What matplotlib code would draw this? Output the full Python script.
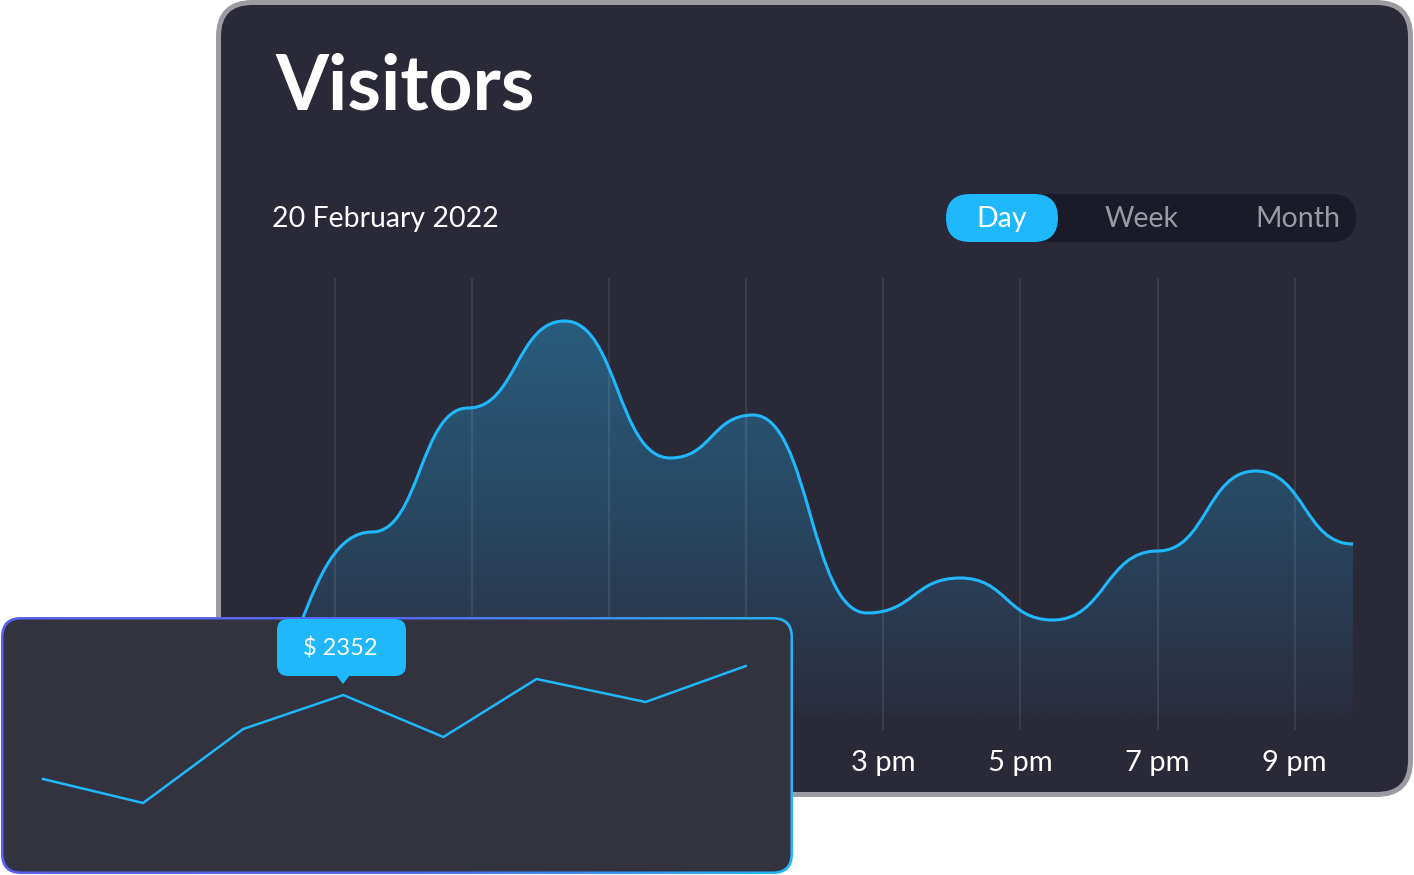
import numpy as np
import matplotlib
matplotlib.use("Agg")
import matplotlib.pyplot as plt
from matplotlib.patches import FancyBboxPatch, PathPatch, Polygon
from matplotlib.path import Path
from matplotlib.colors import LinearSegmentedColormap

plt.rcParams['font.family'] = ['Lato', 'DejaVu Sans']

# main chart: visitors through the day (hour of day, visitors)
hours = [5.47, 7.54, 8.94, 10.35, 11.89, 13.10, 14.76, 16.12, 17.47, 19.00, 20.43, 21.85]
visitors = [0, 905, 1525, 1960, 1275, 1490, 500, 675, 465, 810, 1210, 845]
grid_hours = [7, 9, 11, 13, 15, 17, 19, 21]
hour_labels = ['7 am', '9 am', '11 am', '1 pm', '3 pm', '5 pm', '7 pm', '9 pm']

# small revenue card
rev_x = [0, 1, 2, 3, 4, 4.93, 6.02, 7.02]
revenue = [1512, 1272, 2012, 2352, 1932, 2512, 2282, 2642]
tip_index = 3

toggle_labels = ['Day', 'Week', 'Month']

BG = '#2a2938'
CARD2 = '#33323f'
CYAN = '#1fb8fc'

W, H = 1414, 875
fig = plt.figure(figsize=(W / 100, H / 100), dpi=100)
fig.patch.set_facecolor('white')


def pix_axes(z):
    a = fig.add_axes([0, 0, 1, 1], zorder=z)
    a.set_xlim(0, W)
    a.set_ylim(H, 0)
    a.axis('off')
    a.patch.set_alpha(0)
    return a


def bump_path(xs, ys, k=0.5, close_at=None):
    verts = [(xs[0], ys[0])]
    codes = [Path.MOVETO]
    for i in range(1, len(xs)):
        dx = xs[i] - xs[i - 1]
        verts += [(xs[i - 1] + k * dx, ys[i - 1]), (xs[i] - k * dx, ys[i]), (xs[i], ys[i])]
        codes += [Path.CURVE4] * 3
    if close_at is not None:
        verts += [(xs[-1], close_at), (xs[0], close_at), (xs[0], ys[0])]
        codes += [Path.LINETO, Path.LINETO, Path.CLOSEPOLY]
    return Path(verts, codes)


# ---- background card
bg = pix_axes(0)
bg.add_patch(FancyBboxPatch((218.5, 2.5), 1192, 792, boxstyle='round,pad=0,rounding_size=34',
                            facecolor=BG, edgecolor='#9c9ba2', linewidth=3.6))
bg.text(275, 110, 'Visitors', fontsize=55, fontweight='bold', color='white', va='baseline', ha='left')
bg.text(272, 227, '20 February 2022', fontsize=20.5, color='white', va='baseline', ha='left')

# toggle
bg.add_patch(FancyBboxPatch((946, 194), 410, 48, boxstyle='round,pad=0,rounding_size=24',
                            facecolor='#1b1a28', edgecolor='none'))
bg.add_patch(FancyBboxPatch((946, 194), 112, 48, boxstyle='round,pad=0,rounding_size=24',
                            facecolor=CYAN, edgecolor='none'))
for lab, cx, col in zip(toggle_labels, [1002, 1142, 1298], ['white', '#9a9aa5', '#9a9aa5']):
    bg.text(cx, 227, lab, fontsize=20.5, color=col, va='baseline', ha='center')

# ---- main area chart
px_per_h = 137.1 / 2
ax = fig.add_axes([216 / W, (H - 730) / H, (1412 - 216) / W, (730 - 278) / H], zorder=1)
ax.axis('off')
ax.patch.set_alpha(0)

for h in grid_hours:
    ax.axvline(h, color='white', alpha=0.085, lw=1.6, zorder=2.5)
for h, lab in zip(grid_hours, hour_labels):
    ax.text(h, -0.073, lab, transform=ax.get_xaxis_transform(), fontsize=21,
            color='white', ha='center', va='center')

fill_patch = PathPatch(bump_path(hours, visitors, close_at=0), facecolor='none', edgecolor='none')
ax.add_patch(fill_patch)
cmap = LinearSegmentedColormap.from_list('fade', ['#2b2d40', '#284761', '#285c7d'])
grad = ax.imshow(np.linspace(0, 1, 256).reshape(-1, 1), extent=(hours[0], hours[-1], 0, max(visitors)),
                 origin='lower', cmap=cmap, aspect='auto', zorder=2)
grad.set_clip_path(fill_patch)
ax.add_patch(PathPatch(bump_path(hours, visitors), facecolor='none', edgecolor=CYAN, lw=2.2, zorder=3))
ax.set_xlim(7 - (335 - 216) / px_per_h, 7 + (1412 - 335) / px_per_h)
ax.set_ylim(-85, 2175)

# ---- revenue card on top
top = pix_axes(2)
outer = FancyBboxPatch((1, 617), 792, 257, boxstyle='round,pad=0,rounding_size=20',
                       facecolor='none', edgecolor='none')
top.add_patch(outer)
bcmap = LinearSegmentedColormap.from_list('edge', ['#5c60f0', '#5468ee', '#22b6fa'])
edge = top.imshow(np.tile(np.linspace(0, 1, 256), (4, 1)), extent=(1, 793, 874, 617),
                  cmap=bcmap, aspect='auto')
edge.set_clip_path(outer)
top.add_patch(FancyBboxPatch((3.5, 619.5), 787, 252, boxstyle='round,pad=0,rounding_size=18',
                             facecolor=CARD2, edgecolor='none'))
top.set_xlim(0, W)
top.set_ylim(H, 0)

ax2 = fig.add_axes([2 / W, (H - 873) / H, (792 - 2) / W, (873 - 618) / H], zorder=3)
ax2.axis('off')
ax2.patch.set_alpha(0)
ax2.set_xlim((2 - 43) / 100.1, (792 - 43) / 100.1)
ax2.set_ylim(572, 3122)
ax2.plot(rev_x, revenue, color=CYAN, lw=1.8, solid_joinstyle='miter')

# tooltip
tip = pix_axes(4)
tip.add_patch(FancyBboxPatch((277, 619), 129, 57, boxstyle='round,pad=0,rounding_size=11',
                             facecolor=CYAN, edgecolor='none'))
tip.add_patch(Polygon([(336, 675), (350, 675), (343, 684)], closed=True, facecolor=CYAN, edgecolor='none'))
tip.text(340, 655, '$ %d' % revenue[tip_index], fontsize=17, color='white', ha='center', va='baseline')

fig.savefig('out.png', dpi=100, facecolor='white')
